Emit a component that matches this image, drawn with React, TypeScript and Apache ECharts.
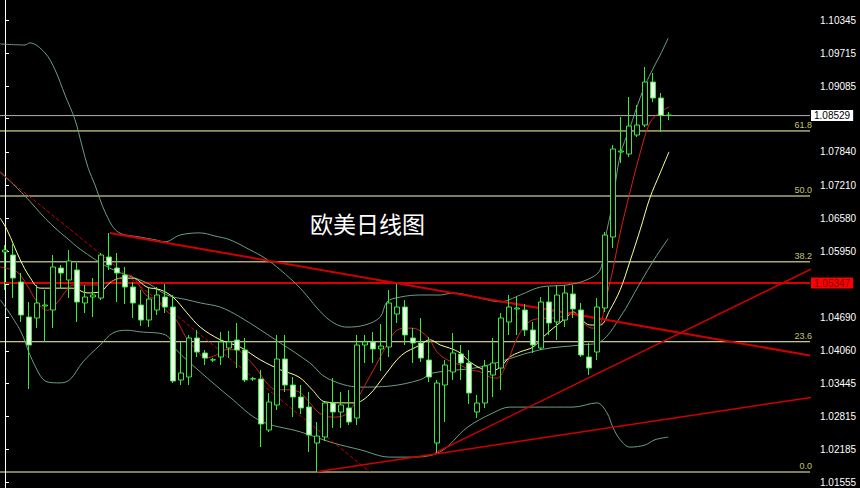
import React, { useEffect, useRef } from 'react';
import * as echarts from 'echarts';

// candles: [open, close, low, high]
const candles = [
  [1.05937, 1.05975, 1.05215, 1.0607],
  [1.0588, 1.05443, 1.05063, 1.06089],
  [1.05367, 1.0474, 1.04607, 1.05538],
  [1.04702, 1.0417, 1.03334, 1.04987],
  [1.04683, 1.04968, 1.04493, 1.0531],
  [1.04911, 1.0493, 1.04227, 1.05215],
  [1.04835, 1.05652, 1.04493, 1.0588],
  [1.05633, 1.05538, 1.05253, 1.0569],
  [1.05405, 1.05766, 1.05063, 1.05975],
  [1.05595, 1.04987, 1.04607, 1.05728],
  [1.04968, 1.05082, 1.04778, 1.0531],
  [1.05082, 1.0512, 1.04702, 1.05443],
  [1.05063, 1.0588, 1.05025, 1.05918],
  [1.05842, 1.0569, 1.05595, 1.06298],
  [1.05633, 1.05538, 1.04987, 1.05918],
  [1.055, 1.05272, 1.04949, 1.05652],
  [1.05272, 1.04968, 1.04683, 1.05367],
  [1.0493, 1.04645, 1.04531, 1.05215],
  [1.04645, 1.05044, 1.04512, 1.05272],
  [1.04835, 1.0512, 1.0474, 1.05272],
  [1.05082, 1.04892, 1.04778, 1.05329],
  [1.04892, 1.03486, 1.03448, 1.0512],
  [1.03505, 1.03638, 1.0341, 1.04227],
  [1.03562, 1.04303, 1.0341, 1.0436],
  [1.04303, 1.04037, 1.03942, 1.04455],
  [1.04018, 1.03923, 1.0379, 1.04075],
  [1.03885, 1.0389, 1.03847, 1.03923],
  [1.03942, 1.04227, 1.0379, 1.04417],
  [1.04113, 1.04227, 1.03923, 1.04436],
  [1.04265, 1.04075, 1.03733, 1.04588],
  [1.04075, 1.03505, 1.03467, 1.04303],
  [1.03524, 1.0353, 1.03486, 1.03562],
  [1.03524, 1.02669, 1.02232, 1.03695],
  [1.02555, 1.03087, 1.02517, 1.03258],
  [1.0303, 1.03904, 1.02935, 1.0436],
  [1.03904, 1.0341, 1.03277, 1.0436],
  [1.0341, 1.03182, 1.02802, 1.03562],
  [1.03182, 1.02973, 1.02859, 1.0341],
  [1.02992, 1.0246, 1.02137, 1.03277],
  [1.02308, 1.02441, 1.01757, 1.02707],
  [1.02422, 1.03068, 1.02346, 1.03087],
  [1.03068, 1.02897, 1.02593, 1.03543],
  [1.02897, 1.0303, 1.02593, 1.03277],
  [1.02973, 1.02707, 1.0265, 1.03315],
  [1.02783, 1.0417, 1.0265, 1.0436],
  [1.0417, 1.04227, 1.03828, 1.0436],
  [1.04227, 1.04094, 1.03828, 1.04417],
  [1.04094, 1.04151, 1.03676, 1.04569],
  [1.04132, 1.04968, 1.03942, 1.05215],
  [1.04759, 1.04892, 1.04588, 1.05329],
  [1.04892, 1.0436, 1.0417, 1.05025],
  [1.04303, 1.04208, 1.03828, 1.04493],
  [1.04208, 1.03923, 1.03847, 1.04683],
  [1.03885, 1.03562, 1.03467, 1.04322],
  [1.02308, 1.03448, 1.02118, 1.03505],
  [1.0341, 1.0379, 1.02707, 1.03885],
  [1.03657, 1.04018, 1.03505, 1.04398],
  [1.03999, 1.03828, 1.03505, 1.0417],
  [1.03828, 1.03258, 1.03049, 1.04075],
  [1.02897, 1.03068, 1.02783, 1.0322],
  [1.03068, 1.03771, 1.02973, 1.03885],
  [1.036, 1.03828, 1.03182, 1.04303],
  [1.03733, 1.04683, 1.03315, 1.04778],
  [1.04607, 1.04892, 1.0436, 1.0512],
  [1.04854, 1.04873, 1.0436, 1.05082],
  [1.04835, 1.04455, 1.04341, 1.04949],
  [1.04455, 1.0417, 1.04018, 1.04607],
  [1.04113, 1.04987, 1.04075, 1.05082],
  [1.04987, 1.04588, 1.0436, 1.05272],
  [1.04607, 1.0512, 1.04265, 1.0531],
  [1.04645, 1.05158, 1.04512, 1.0531],
  [1.05139, 1.04854, 1.04683, 1.0531],
  [1.04835, 1.0398, 1.03942, 1.04968],
  [1.03942, 1.03733, 1.036, 1.04208],
  [1.04037, 1.04892, 1.03885, 1.05063],
  [1.04873, 1.0626, 1.04797, 1.06317],
  [1.06222, 1.07894, 1.06013, 1.0797],
  [1.07837, 1.07856, 1.07628, 1.08502],
  [1.07799, 1.08331, 1.07742, 1.08882],
  [1.0816, 1.0835, 1.08122, 1.0873],
  [1.0835, 1.09167, 1.08312, 1.09452],
  [1.09167, 1.08863, 1.08787, 1.09338],
  [1.08863, 1.08529, 1.08217, 1.08958],
  [1.08529, 1.0854, 1.08445, 1.08597],
];

// axis ticks; the two hidden under the price boxes carry no label
const yTicks = [1.01555, 1.02185, 1.02815, 1.03445, 1.0406, 1.0469, 1.0532, 1.0595, 1.0658, 1.0721, 1.0784, 1.0847, 1.09085, 1.09715, 1.10345];
const yLabels = [1.01555, 1.02185, 1.02815, 1.03445, 1.0406, 1.0469, 1.0595, 1.0658, 1.0721, 1.0784, 1.09085, 1.09715, 1.10345];

const lastPrice = 1.08529;
const redLevel = 1.05347;
const fibPrices = [1.01757, 1.04232, 1.0575, 1.07001, 1.08237];
const fibLabels = ['0.0', '23.6', '38.2', '50.0', '61.8'];

// indicator lines: [bar index, price]
const ma5 = [
  [-0.6, 1.0565], [1.5, 1.0556], [2.75, 1.0531], [4, 1.0499], [5.25, 1.0483], [6.5, 1.0497], [7.75, 1.0522], [8.5, 1.0531],
  [11.5, 1.0531], [12.75, 1.0535], [14.4, 1.0544], [15.6, 1.055], [16.5, 1.0537], [17.6, 1.0512], [18.9, 1.0503], [20.1, 1.0483],
  [21.4, 1.0465], [22.6, 1.0432], [23.9, 1.0408], [25.1, 1.0392], [26.4, 1.0398], [27.6, 1.0408], [28.9, 1.0408], [30.1, 1.0394],
  [31.4, 1.0373], [32.6, 1.0347], [33.9, 1.0332], [35, 1.0332], [36.75, 1.0328], [38, 1.0309], [39.25, 1.0288], [40.9, 1.028],
  [42.5, 1.0284], [43.75, 1.0307], [45, 1.0341], [46.25, 1.0375], [47.5, 1.0411], [48.75, 1.0442], [50, 1.0449], [51, 1.0449],
  [52.25, 1.044], [53.1, 1.0427], [54, 1.0404], [55.25, 1.0389], [56.9, 1.0379], [58.1, 1.037], [59.4, 1.0366], [60.6, 1.0356],
  [61.5, 1.0354], [62.75, 1.0383], [63.75, 1.0421], [64.75, 1.0449], [66, 1.0465], [67.75, 1.0468], [69.4, 1.047], [71, 1.048],
  [72.25, 1.0459], [73.4, 1.0449], [74.4, 1.0455], [75, 1.0497], [75.9, 1.0554], [76.9, 1.063], [78.1, 1.0706], [79.4, 1.0782],
  [80.6, 1.0839], [81.9, 1.086], [83, 1.0869],
];

const ma10 = [
  [-0.6, 1.0658], [0.25, 1.0636], [1.9, 1.0579], [3.1, 1.0546], [4.4, 1.0525], [6.9, 1.0525], [8.5, 1.0525], [10.25, 1.0516],
  [11.9, 1.0518], [13.1, 1.0535], [14.4, 1.0544], [16, 1.0544], [17.75, 1.0527], [19.4, 1.0522], [21, 1.0508], [22.75, 1.0478],
  [24.4, 1.0451], [26.9, 1.0427], [29.4, 1.0413], [31.9, 1.0389], [34.4, 1.037], [36.75, 1.0356], [38.4, 1.0332], [40, 1.0309],
  [42.5, 1.0307], [43.75, 1.0307], [45.5, 1.0322], [47.5, 1.036], [49.6, 1.0398], [51.9, 1.0417], [53.1, 1.0427], [54.4, 1.0417],
  [55.6, 1.0411], [56.9, 1.0402], [58.1, 1.0385], [59.4, 1.0373], [60.6, 1.0366], [61.9, 1.0375], [63.1, 1.0394], [64.4, 1.0404],
  [66, 1.0413], [67.25, 1.0432], [69, 1.0455], [70.25, 1.047], [71, 1.048], [72.1, 1.0465], [73.1, 1.0455], [74.4, 1.0455],
  [75.6, 1.0483], [76.9, 1.0522], [78.1, 1.0575], [79.4, 1.0636], [80.6, 1.0696], [81.9, 1.0744], [83, 1.0784],
];

const bbUpper = [
  [-0.6, 1.0989], [2.5, 1.0987], [3.1, 1.0991], [5, 1.0972], [6.25, 1.094], [7.5, 1.0892], [8.75, 1.0845], [9.6, 1.0797],
  [10.4, 1.0753], [11.25, 1.0721], [12.5, 1.067], [14.1, 1.0632], [16.9, 1.0622], [18.75, 1.0617], [20, 1.0613], [21.9, 1.0626],
  [24.4, 1.063], [26.25, 1.0624], [28.1, 1.0617], [30.6, 1.0598], [32.5, 1.0582], [34.4, 1.056], [36.9, 1.0525], [40.25, 1.0468],
  [42.75, 1.0451], [45, 1.0455], [46.9, 1.047], [47.75, 1.0499], [49.4, 1.0508], [51.9, 1.0512], [54.4, 1.0512], [56, 1.0516],
  [59.4, 1.0506], [61.9, 1.0499], [64.4, 1.0512], [66.9, 1.0527], [70.25, 1.0531], [72.75, 1.0541], [74.4, 1.056], [75, 1.0617],
  [75.9, 1.0683], [76.9, 1.0778], [78.1, 1.0829], [79.4, 1.0887], [80.6, 1.093], [81.9, 1.0968], [82.9, 1.1],
];

const bbMiddle = [
  [-0.6, 1.0746], [2.5, 1.07], [5, 1.0658], [6.5, 1.0636], [7.75, 1.062], [9.4, 1.0599], [13.1, 1.0563], [17.75, 1.0535],
  [20.25, 1.0512], [22.75, 1.0503], [24.4, 1.0497], [26.9, 1.0489], [29.4, 1.047], [34.4, 1.0421], [38.1, 1.0383], [40.25, 1.0354],
  [44.4, 1.0337], [48.1, 1.0339], [51.9, 1.0351], [53.5, 1.0364], [59.4, 1.0375], [66.9, 1.0408], [71.9, 1.0417], [74.4, 1.0423],
  [76.9, 1.047], [79.4, 1.0535], [81.25, 1.0582], [82.9, 1.0619],
];

const bbLower = [
  [-0.6, 1.0503], [1.9, 1.0445], [3.5, 1.0385], [5.25, 1.0347], [6.9, 1.0345], [8.1, 1.0351], [9.75, 1.0385], [11.9, 1.0417],
  [13.5, 1.044], [15.25, 1.0445], [16.9, 1.0442], [20.1, 1.0436], [21.4, 1.0408], [24.4, 1.0366], [28.1, 1.0318], [31.9, 1.0273],
  [36.9, 1.0252], [41, 1.0231], [44.4, 1.0218], [48.1, 1.0204], [50.9, 1.0204], [54.4, 1.0214], [57.75, 1.026], [61, 1.0288],
  [63.1, 1.0299], [66.9, 1.0299], [71, 1.0299], [74, 1.0307], [75.25, 1.0288], [76, 1.026], [76.9, 1.0237], [78.1, 1.0223],
  [80, 1.0227], [81.25, 1.0237], [82.9, 1.0242],
];

const trendDashed = [[-0.6, 1.0744], [45.6, 1.0176]];
const trendDown = [[13.1, 1.063], [101, 1.0396]];
const trendUpLow = [[39, 1.0176], [101, 1.0318]];
const trendUpSteep = [[53.75, 1.0212], [101, 1.0563]];

const xStart = -0.7;
const xEnd = 101;

const chartTitle = '欧美日线图';
const FONT = '"Liberation Sans", Arial, sans-serif';

export default function App() {
  const ref = useRef<HTMLDivElement>(null);
  useEffect(() => {
    document.body.style.margin = '0';
    document.body.style.background = '#000';
    const chart = echarts.init(ref.current!, null, { renderer: 'svg' });
    const cats = Array.from({ length: 101 }, (_, i) => String(i));
    const line = (name: string, data: number[][], color: string, width: number, type: string = 'solid', smooth: number | boolean = 0.35, z = 3) => ({
      type: 'line',
      name,
      xAxisIndex: 1,
      yAxisIndex: 0,
      data,
      symbol: 'none',
      showSymbol: false,
      smooth,
      clip: false,
      silent: true,
      z,
      lineStyle: { color, width, type },
    });
    const hLine = (name: string, price: number, color: string, width: number) =>
      line(name, [[xStart, price], [xEnd, price]], color, width, 'solid', false, 2);
    const priceBox = (bg: string, fg: string) => ({
      show: true,
      formatter: (p: any) => Number(p.value[1]).toFixed(5),
      backgroundColor: bg,
      color: fg,
      padding: [1, 3, 0, 3],
      fontSize: 10,
      fontFamily: FONT,
      distance: 1,
    });
    chart.setOption({
      animation: false,
      backgroundColor: '#000000',
      grid: { left: 1, right: 51, top: 0, bottom: 0, containLabel: false },
      title: {
        text: chartTitle,
        left: 305,
        top: 206,
        textStyle: { color: '#ffffff', fontSize: 23, fontWeight: 'normal', fontFamily: '"Noto Sans CJK SC", sans-serif' },
      },
      xAxis: [
        { type: 'category', data: cats, boundaryGap: true, axisLine: { show: false }, axisTick: { show: false }, axisLabel: { show: false }, splitLine: { show: false } },
        { type: 'value', min: -0.5, max: 100.5, show: false },
      ],
      yAxis: {
        type: 'value',
        position: 'right',
        offset: 4,
        min: 1.01453,
        max: 1.10725,
        scale: true,
        axisLine: { show: true, lineStyle: { color: '#ffffff', width: 1 } },
        axisTick: { show: true, length: 4, customValues: yTicks, lineStyle: { color: '#ffffff' } },
        axisLabel: {
          show: true,
          customValues: yLabels,
          margin: 7,
          color: '#ffffff',
          fontSize: 10,
          fontFamily: FONT,
          formatter: (v: number) => v.toFixed(5),
        },
        splitLine: { show: false },
      },
      series: [
        ...fibPrices.map((p, i) => hLine('fib' + fibLabels[i], p, '#ffffb4', 1)),
        { ...hLine('last', lastPrice, '#b0b0b0', 1), endLabel: priceBox('#ffffff', '#000000') },
        { ...hLine('level', redLevel, '#d80000', 2), endLabel: priceBox('#ff0000', '#700000') },
        {
          type: 'scatter',
          name: 'fibText',
          xAxisIndex: 1,
          yAxisIndex: 0,
          data: fibPrices.map((p) => [xEnd, p]),
          symbolSize: 0,
          clip: false,
          silent: true,
          z: 5,
          label: {
            show: true,
            position: 'left',
            distance: 1,
            offset: [0, -6],
            formatter: (p: any) => fibLabels[p.dataIndex],
            color: '#f4f49a',
            fontSize: 9,
            fontFamily: FONT,
          },
        },
        {
          type: 'candlestick',
          data: candles,
          barWidth: 5,
          z: 4,
          itemStyle: {
            color: '#000000',
            color0: '#f0fff0',
            borderColor: '#3ce83c',
            borderColor0: '#3ce83c',
            borderWidth: 1,
          },
        },
        line('bbUpper', bbUpper, '#6c9e80', 1),
        line('bbMiddle', bbMiddle, '#6c9e80', 1),
        line('bbLower', bbLower, '#6c9e80', 1),
        line('ma10', ma10, '#ffff90', 1),
        line('ma5', ma5, '#d42020', 1),
        line('trendDashed', trendDashed, '#c80000', 1, 'dashed', false),
        line('trendDown', trendDown, '#d00000', 2, 'solid', false),
        line('trendUpLow', trendUpLow, '#d00000', 1.5, 'solid', false),
        line('trendUpSteep', trendUpSteep, '#d00000', 1.5, 'solid', false),
      ],
    });
    return () => chart.dispose();
  }, []);
  return <div ref={ref} style={{ width: 860, height: 488, background: '#000' }} />;
}
